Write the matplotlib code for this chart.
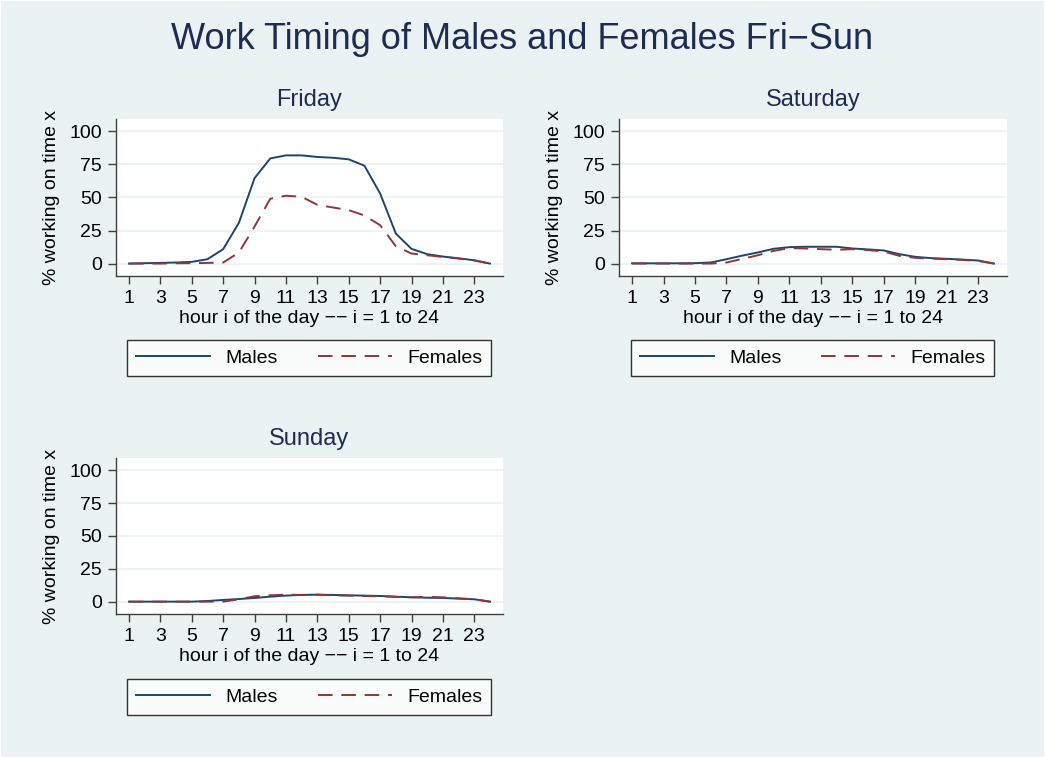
import numpy as np
import matplotlib
matplotlib.use("Agg")
import matplotlib.pyplot as plt
from matplotlib.patches import Rectangle

plt.rcParams['font.family'] = ['Liberation Sans', 'DejaVu Sans']

hours = np.arange(1, 25)
xticks = [1, 3, 5, 7, 9, 11, 13, 15, 17, 19, 21, 23]
yticks = [0, 25, 50, 75, 100]

fri_males = [0, 0.3, 0.5, 0.8, 1.3, 3.3, 10.9, 30.8, 64.6, 79.5, 81.8, 81.8,
             80.6, 80.0, 78.8, 74.0, 53.0, 22.7, 11.1, 7.1, 5.3, 4.0, 2.5, 0]
fri_females = [0, 0, 0, 0.2, 0.3, 0.5, 0.8, 8.3, 28.0, 49.0, 51.3, 50.5,
               44.4, 42.4, 40.4, 36.4, 29.0, 13.1, 7.6, 6.3, 5.0, 3.8, 2.3, 0]
sat_males = [0.2, 0.2, 0.2, 0.2, 0.3, 0.8, 3.3, 6.0, 8.4, 11.2, 12.4, 12.7,
             12.7, 12.7, 11.4, 10.7, 9.9, 7.1, 5.1, 4.1, 3.6, 3.0, 2.3, 0]
sat_females = [0, 0, 0, 0, 0, 0, 0.8, 3.5, 6.3, 9.6, 11.7, 11.4,
               10.9, 10.4, 10.9, 10.2, 9.1, 5.8, 4.3, 3.8, 3.3, 2.8, 2.0, 0]
sun_males = [0, 0, 0, 0, 0, 0.5, 1.3, 2.0, 2.8, 3.8, 4.6, 5.1,
             5.3, 5.1, 4.8, 4.6, 4.3, 3.8, 3.3, 3.0, 2.8, 2.3, 1.8, 0]
sun_females = [0, 0, 0, 0, 0, 0, 0, 1.8, 4.1, 4.8, 5.3, 5.1,
               5.3, 4.8, 4.6, 4.3, 4.1, 3.6, 3.3, 3.6, 3.3, 2.5, 1.8, 0]

panels = [("Friday", fri_males, fri_females),
          ("Saturday", sat_males, sat_females),
          ("Sunday", sun_males, sun_females)]

bg = "#EAF2F3"
navy = "#1A476F"
maroon = "#90353B"
title_col = "#1E2B52"

W, H = 1045, 758
fig = plt.figure(figsize=(W / 100, H / 100), dpi=100)
fig.patch.set_facecolor(bg)
fig.patches.append(Rectangle((0, 0), 1, 1, transform=fig.transFigure,
                             fill=False, edgecolor="white", lw=1.5))

# axes boxes in pixels: left, top, right, bottom
boxes = [(116, 119, 503, 276), (619, 119, 1007, 276), (116, 458, 503, 614)]
legboxes = [(127, 339, 491, 377), (631, 339, 994, 377), (127, 678, 491, 716)]

fig.text(522 / W, 1 - 49 / H, "Work Timing of Males and Females Fri\u2212Sun",
         ha="center", va="baseline", fontsize=26, color=title_col)

for (name, m, f), (l, t, r, b), (ll, lt, lr, lb) in zip(panels, boxes, legboxes):
    ax = fig.add_axes([l / W, 1 - b / H, (r - l) / W, (b - t) / H])
    ax.set_facecolor("white")
    ax.plot(hours, m, color=navy, lw=1.4, label="Males")
    ax.plot(hours, f, color=maroon, lw=1.4, dashes=(7.5, 4.5), label="Females")
    ax.set_xlim(0.17, 24.83)
    ax.set_ylim(-9.4, 109.3)
    ax.set_xticks(xticks)
    ax.set_yticks(yticks)
    ax.yaxis.grid(True, color=bg, lw=1.2)
    ax.set_axisbelow(True)
    for s in ["top", "right"]:
        ax.spines[s].set_visible(False)
    for s in ["left", "bottom"]:
        ax.spines[s].set_color("#404040")
        ax.spines[s].set_linewidth(1.0)
    ax.tick_params(direction="out", length=6, width=1.0, color="#404040",
                   labelsize=14, pad=4)
    ax.set_xlabel("hour i of the day \u2212\u2212 i = 1 to 24", fontsize=14, labelpad=2)
    ax.set_ylabel("% working on time x", fontsize=14, labelpad=7)
    fig.text((l + r) / 2 / W, 1 - (t - 13) / H, name, ha="center",
             va="baseline", fontsize=17, color=title_col)
    leg = ax.legend(loc="center", ncol=2, mode="expand", fontsize=14,
                    bbox_to_anchor=(ll / W, 1 - lb / H, (lr - ll) / W, (lb - lt) / H),
                    bbox_transform=fig.transFigure, frameon=True, fancybox=False,
                    handlelength=3.8, handletextpad=0.8, borderpad=0.45,
                    borderaxespad=0)
    leg.get_frame().set_edgecolor("black")
    leg.get_frame().set_linewidth(1.0)

fig.savefig("out.png", dpi=100, facecolor=bg)
